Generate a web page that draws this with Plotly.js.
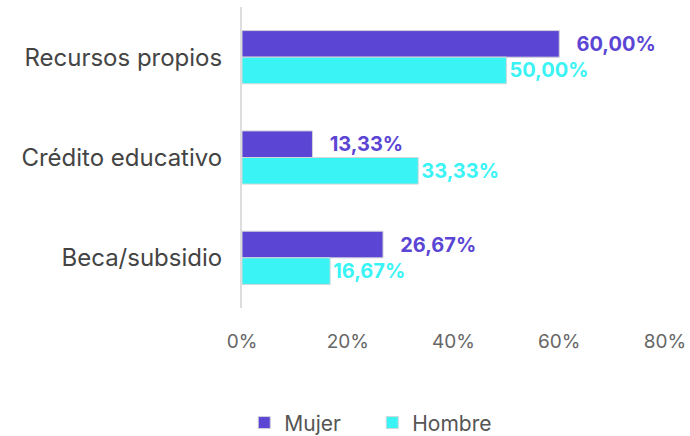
<!DOCTYPE html>
<html><head><meta charset="utf-8">
<script src="https://cdn.plot.ly/plotly-3.0.1.min.js"></script>
<style>body{margin:0;background:#fff}#c{width:690px;height:436px}</style>
</head><body><div id="c"></div>
<script>
const categories = ["Recursos propios", "Crédito educativo", "Beca/subsidio"];
const mujer = [60.00, 13.33, 26.67];
const hombre = [50.00, 33.33, 16.67];
const tickVals = [0, 20, 40, 60, 80];
const tickText = ["0%", "20%", "40%", "60%", "80%"];

const font = "Inter, 'Open Sans', sans-serif";
const traces = [
  {type:"bar", orientation:"h", name:"Mujer", y:categories, x:mujer,
   marker:{color:"#5B45D4", line:{color:"#d0d0d8", width:1}},
   texttemplate:"\u00A0\u00A0\u00A0%{x:.2f}%", textposition:"outside", cliponaxis:false,
   textfont:{family:font, size:20, color:"#5B45D4", weight:"bold"}},
  {type:"bar", orientation:"h", name:"Hombre", y:categories, x:hombre,
   marker:{color:"#3AF3F5", line:{color:"#d0d8d8", width:1}},
   texttemplate:"%{x:.2f}%", textposition:"outside", cliponaxis:false,
   textfont:{family:font, size:20, color:"#3AF3F5", weight:"bold"}}
];
const layout = {
  width:690, height:436,
  margin:{l:242, r:25, t:7, b:128},
  barmode:"group", bargap:0.47, bargroupgap:0,
  separators:",.",
  font:{family:font, size:16, color:"#555"},
  xaxis:{range:[0,80], tickmode:"array", tickvals:tickVals, ticktext:tickText, showgrid:false, zeroline:false,
         showline:false, ticklabelstandoff:20, tickfont:{size:19, color:"#666"}},
  yaxis:{autorange:"reversed", showline:true, linecolor:"#ddd", linewidth:2, showgrid:false,
         ticks:"", ticklabelstandoff:13, tickfont:{size:24, color:"#444"}},
  showlegend:true,
  legend:{orientation:"h", x:0.354, xref:"container", xanchor:"left", y:0.03, yref:"container", yanchor:"middle",
          font:{size:21, color:"#555"}, entrywidth:83, entrywidthmode:"pixels", traceorder:"normal"},
  plot_bgcolor:"#fff", paper_bgcolor:"#fff"
};
Plotly.newPlot("c", traces, layout, {displayModeBar:false, staticPlot:true});
</script></body></html>
